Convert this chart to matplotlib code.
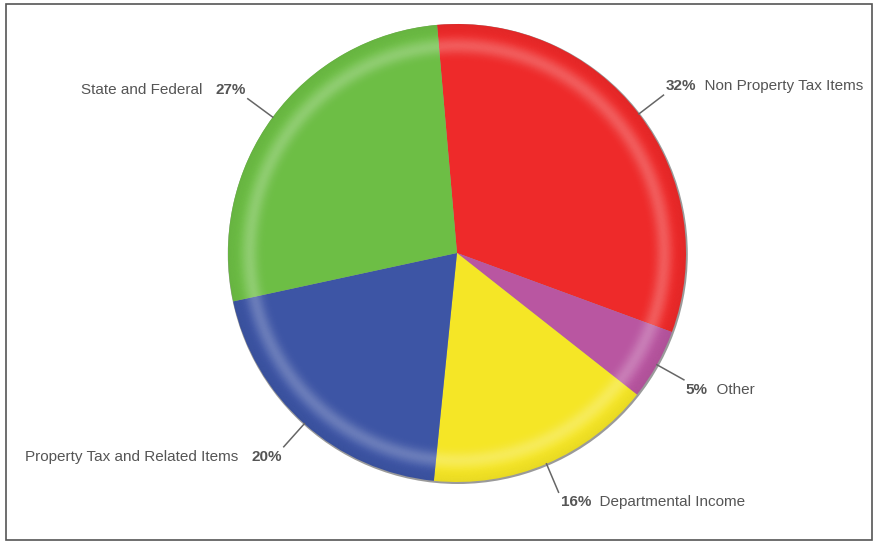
import matplotlib.pyplot as plt
from matplotlib.patches import Wedge, Rectangle, Circle
import numpy as np

# revenue share by source, clockwise from top
labels = ['Non Property Tax Items', 'Other', 'Departmental Income',
          'Property Tax and Related Items', 'State and Federal']
shares = [32, 5, 16, 20, 27]
colors = ['#ee2a2a', '#b956a1', '#f5e626', '#3d55a5', '#6dbe45']

plt.rcParams['font.family'] = ['Liberation Sans', 'DejaVu Sans']

W, H = 875, 542
fig = plt.figure(figsize=(W / 100, H / 100), dpi=100)
ax = fig.add_axes([0, 0, 1, 1])

cx, cy, r = 457, H - 253, 229

# thin shadow behind the pie
ax.add_patch(Circle((cx + 0.8, cy - 1), r + 1, color='#9a9a9a', lw=0, zorder=1))

wedges, _ = ax.pie(shares, colors=colors, startangle=95, counterclock=False,
                   center=(cx, cy), radius=r, frame=True,
                   wedgeprops=dict(linewidth=0, zorder=2))
ax.set_xlim(0, W)
ax.set_ylim(0, H)
ax.set_aspect('equal')
ax.axis('off')

# glossy rim: soft light band a little inside the edge
nr = 60
edges = np.linspace(0.78, 1.0, nr + 1)
for a, b in zip(edges[:-1], edges[1:]):
    m = (a + b) / 2
    alpha = 0.24 * np.exp(-((m - 0.905) / 0.035) ** 2)
    ax.add_patch(Wedge((cx, cy), b * r, 0, 360, width=(b - a) * r,
                       color='white', alpha=alpha, lw=0, zorder=3))
    if m > 0.94:
        ax.add_patch(Wedge((cx, cy), b * r, 0, 360, width=(b - a) * r,
                           color='black', alpha=0.05 * (m - 0.94) / 0.06, lw=0, zorder=3))

# labels with leader lines
txt_col = '#555555'
for w, lab, val in zip(wedges, labels, shares):
    ang = np.deg2rad((w.theta1 + w.theta2) / 2)
    x0, y0 = cx + r * np.cos(ang), cy + r * np.sin(ang)
    x1, y1 = cx + 1.135 * r * np.cos(ang), cy + 1.135 * r * np.sin(ang)
    ax.plot([x0, x1], [y0, y1], color='#666666', lw=1.1, zorder=4)
    right = np.cos(ang) > 0
    dy = 9 if np.sin(ang) > 0 else -10
    if right:
        t = ax.annotate(f'{val}%', (x1, y1), xytext=(2, dy), textcoords='offset pixels',
                        ha='left', va='center', fontsize=11, fontweight='bold', color=txt_col)
        ax.annotate(f'  {lab}', (1, 0.5), xycoords=t, ha='left', va='center',
                    fontsize=11, color=txt_col)
    else:
        t = ax.annotate(f'{val}%', (x1, y1), xytext=(-2, dy), textcoords='offset pixels',
                        ha='right', va='center', fontsize=11, fontweight='bold', color=txt_col)
        ax.annotate(f'{lab}   ', (0, 0.5), xycoords=t, ha='right', va='center',
                    fontsize=11, color=txt_col)

# outer frame
ax.add_patch(Rectangle((6, H - 540), 866, 536, fill=False, ec='#555555', lw=1.2, zorder=5))

fig.savefig('out.png', dpi=100)
